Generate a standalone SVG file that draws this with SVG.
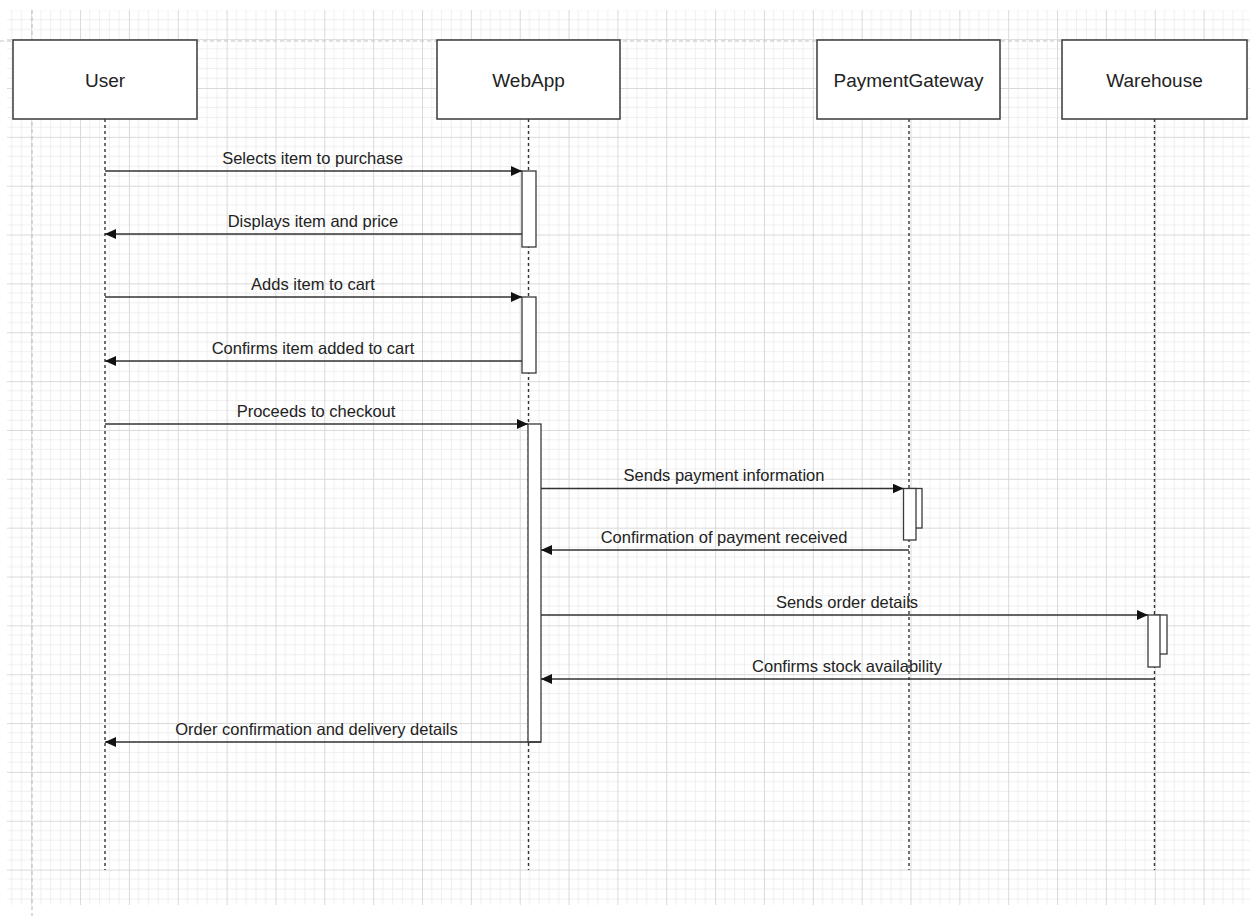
<svg xmlns="http://www.w3.org/2000/svg" width="1256" height="916" viewBox="0 0 1256 916">
<style>
.box{fill:#fff;stroke:#3a3a3a;stroke-width:1.5}
.act{fill:#fff;stroke:#3a3a3a;stroke-width:1.3}
.life{stroke:#333;stroke-width:1.4;stroke-dasharray:3 3;fill:none}
.msg{stroke:#333;stroke-width:1.3;fill:none}
.lbl{font-family:"Liberation Sans",Arial,sans-serif;font-size:16.5px;fill:#222;text-anchor:middle}
.name{font-family:"Liberation Sans",Arial,sans-serif;font-size:19px;fill:#222;text-anchor:middle}
.page{stroke:#c4c4c4;stroke-width:1.2;stroke-dasharray:4 3;fill:none}
</style>
<defs>
<pattern id="grid" patternUnits="userSpaceOnUse" x="31.2" y="88" width="48.85" height="48.85">
<path d="M9.77 0V48.85M19.54 0V48.85M29.31 0V48.85M39.08 0V48.85M0 9.77H48.85M0 19.54H48.85M0 29.31H48.85M0 39.08H48.85" stroke="#efefef" stroke-width="1" fill="none"/>
<path d="M0.5 0V48.85M0 0.5H48.85" stroke="#d9d9d9" stroke-width="1" fill="none"/>
</pattern>
<marker id="ah" markerUnits="userSpaceOnUse" markerWidth="12" markerHeight="10" refX="11" refY="5" orient="auto">
<path d="M0 0L11 5L0 10Z" fill="#111"/>
</marker>
</defs>
<rect width="1256" height="916" fill="#fff"/>
<rect x="7" y="10" width="1243" height="895" fill="url(#grid)"/>
<g id="page-border">
<line class="page" x1="32" y1="10" x2="32" y2="916"/>
<line class="page" x1="0" y1="41" x2="1250" y2="41"/>
</g>
<g id="lifelines">
<line class="life" x1="105" y1="119" x2="105" y2="870"/>
<line class="life" x1="528.5" y1="119" x2="528.5" y2="870"/>
<line class="life" x1="909" y1="119" x2="909" y2="870"/>
<line class="life" x1="1154.5" y1="119" x2="1154.5" y2="870"/>
</g>
<g id="node-user"><rect class="box" x="13" y="40" width="184" height="79"/><text class="name" x="105" y="87">User</text></g>
<g id="node-webapp"><rect class="box" x="437" y="40" width="183" height="79"/><text class="name" x="528.5" y="87">WebApp</text></g>
<g id="node-paymentgateway"><rect class="box" x="817" y="40" width="183" height="79"/><text class="name" x="908.5" y="87">PaymentGateway</text></g>
<g id="node-warehouse"><rect class="box" x="1062" y="40" width="185" height="79"/><text class="name" x="1154.5" y="87">Warehouse</text></g>
<g id="activations">
<rect class="act" x="522" y="171" width="14" height="76"/>
<rect class="act" x="522" y="297" width="14" height="76"/>
<rect class="act" x="528" y="424" width="13" height="318"/>
<rect class="act" x="910" y="488.5" width="12" height="39.5"/>
<rect class="act" x="903.5" y="488.5" width="12.5" height="51.5"/>
<rect class="act" x="1154" y="615" width="13" height="39"/>
<rect class="act" x="1148" y="615" width="12" height="52"/>
</g>
<g id="connectors">
<line class="msg" x1="105" y1="171" x2="522" y2="171" marker-end="url(#ah)"/>
<line class="msg" x1="522" y1="234" x2="105" y2="234" marker-end="url(#ah)"/>
<line class="msg" x1="105" y1="297" x2="522" y2="297" marker-end="url(#ah)"/>
<line class="msg" x1="522" y1="361" x2="105" y2="361" marker-end="url(#ah)"/>
<line class="msg" x1="105" y1="424" x2="528" y2="424" marker-end="url(#ah)"/>
<line class="msg" x1="541" y1="488.5" x2="903.5" y2="488.5" marker-end="url(#ah)"/>
<line class="msg" x1="909" y1="550" x2="541" y2="550" marker-end="url(#ah)"/>
<line class="msg" x1="541" y1="615" x2="1148" y2="615" marker-end="url(#ah)"/>
<line class="msg" x1="1154.5" y1="679" x2="541" y2="679" marker-end="url(#ah)"/>
<line class="msg" x1="541" y1="742" x2="105" y2="742" marker-end="url(#ah)"/>
</g>
<g id="labels">
<text class="lbl" x="312.5" y="163.5">Selects item to purchase</text>
<text class="lbl" x="313" y="226.5">Displays item and price</text>
<text class="lbl" x="313" y="289.5">Adds item to cart</text>
<text class="lbl" x="313" y="353.5">Confirms item added to cart</text>
<text class="lbl" x="316" y="416.5">Proceeds to checkout</text>
<text class="lbl" x="724" y="481">Sends payment information</text>
<text class="lbl" x="724" y="542.5">Confirmation of payment received</text>
<text class="lbl" x="847" y="607.5">Sends order details</text>
<text class="lbl" x="847" y="671.5">Confirms stock availability</text>
<text class="lbl" x="316.5" y="734.5">Order confirmation and delivery details</text>
</g>
</svg>
